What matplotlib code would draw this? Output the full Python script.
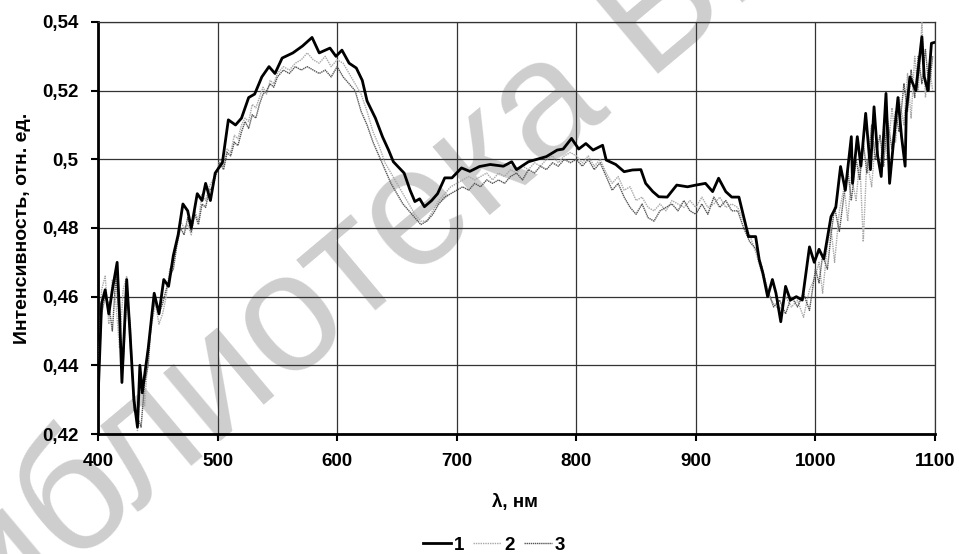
import matplotlib
matplotlib.use("Agg")
import matplotlib.pyplot as plt
from matplotlib.ticker import FuncFormatter

plt.rcParams['font.family'] = ['Liberation Sans', 'DejaVu Sans']
plt.rcParams['font.weight'] = 'bold'

# серия 1 (чёрная)
wl1 = [400, 403, 406, 409, 412, 416, 418, 420, 424, 427, 430, 433, 435, 437, 442, 447, 451, 455,
       459, 463, 467, 471, 475, 478, 483, 487, 490, 494, 498, 504, 509, 515, 520, 526, 531, 537,
       543, 548, 554, 563, 571, 579, 585, 594, 599, 604, 610, 616, 621, 625, 632, 638, 643, 647,
       656, 661, 665, 669, 673, 679, 684, 690, 696, 704, 711, 719, 728, 739, 746, 750, 760, 767,
       775, 784, 789, 796, 802, 808, 814, 822, 825, 833, 840, 847, 854, 858, 864, 869, 876, 884,
       893, 900, 908, 914, 919, 925, 930, 936, 940, 944, 950, 953, 956, 960, 964, 967, 971, 975,
       979, 984, 989, 995, 999, 1003, 1007, 1013, 1017, 1021, 1025, 1030, 1031, 1035, 1038, 1042,
       1046, 1049, 1052, 1055, 1059, 1062, 1065, 1069, 1072, 1075, 1076, 1079, 1084, 1089, 1091,
       1094, 1097, 1099]
s1 = [0.430, 0.458, 0.462, 0.455, 0.462, 0.470, 0.455, 0.435, 0.465, 0.448, 0.430, 0.422, 0.440,
      0.432, 0.445, 0.461, 0.455, 0.465, 0.463, 0.472, 0.478, 0.487, 0.485, 0.480, 0.490, 0.488,
      0.493, 0.488, 0.496, 0.499, 0.5115, 0.510, 0.512, 0.518, 0.519, 0.524, 0.527, 0.525, 0.5295,
      0.531, 0.533, 0.5355, 0.531, 0.5324, 0.530, 0.5318, 0.528, 0.5266, 0.523, 0.517, 0.512,
      0.5065, 0.5027, 0.4993, 0.496, 0.491, 0.4877, 0.4885, 0.4862, 0.488, 0.490, 0.4946, 0.4946,
      0.4975, 0.4965, 0.4979, 0.4985, 0.498, 0.4993, 0.497, 0.4993, 0.500, 0.5008, 0.5027, 0.503,
      0.5061, 0.503, 0.5046, 0.5027, 0.5041, 0.4998, 0.4985, 0.4964, 0.4969, 0.497, 0.493, 0.4906,
      0.4891, 0.489, 0.4925, 0.492, 0.4925, 0.493, 0.4906, 0.4945, 0.4906, 0.489, 0.489, 0.4833,
      0.4775, 0.4775, 0.4707, 0.4669, 0.460, 0.465, 0.461, 0.4527, 0.463, 0.459, 0.460, 0.459,
      0.4745, 0.470, 0.4738, 0.471, 0.4833, 0.486, 0.4979, 0.491, 0.5066, 0.493, 0.5066, 0.498,
      0.5134, 0.497, 0.5153, 0.501, 0.495, 0.5192, 0.493, 0.504, 0.518, 0.5066, 0.498, 0.514,
      0.524, 0.520, 0.5357, 0.524, 0.520, 0.5338, 0.534]

# серии 2 и 3
wl23 = [400, 403, 406, 409, 412, 415, 418, 421, 424, 427, 430, 433, 436, 439, 442, 445, 448, 451,
        454, 457, 460, 463, 466, 469, 472, 475, 478, 481, 484, 487, 490, 493, 496, 499, 502, 505,
        508, 511, 514, 517, 520, 523, 526, 529, 532, 535, 538, 541, 544, 547, 550, 555, 560, 565,
        570, 575, 580, 585, 590, 595, 600, 605, 610, 615, 620, 625, 630, 635, 640, 645, 650, 655,
        660, 665, 670, 675, 680, 685, 690, 695, 700, 705, 710, 715, 720, 725, 730, 735, 740, 745,
        750, 755, 760, 765, 770, 775, 780, 785, 790, 795, 800, 805, 810, 815, 820, 825, 830, 835,
        840, 845, 850, 855, 860, 865, 870, 875, 880, 885, 890, 895, 900, 905, 910, 915, 920, 925,
        930, 935, 940, 945, 950, 955, 960, 965, 970, 975, 980, 985, 990, 995, 1000, 1003, 1006,
        1010, 1013, 1016, 1020, 1024, 1027, 1030, 1034, 1037, 1040, 1043, 1047, 1050, 1054, 1057,
        1060, 1064, 1067, 1070, 1074, 1077, 1080, 1083, 1086, 1089, 1092, 1095, 1098]
s2 = [0.435, 0.462, 0.466, 0.452, 0.465, 0.458, 0.445, 0.462, 0.466, 0.445, 0.432, 0.421, 0.438,
      0.428, 0.444, 0.452, 0.458, 0.452, 0.455, 0.460, 0.468, 0.470, 0.476, 0.482, 0.480, 0.481,
      0.478, 0.485, 0.482, 0.490, 0.488, 0.492, 0.494, 0.496, 0.500, 0.498, 0.503, 0.502, 0.507,
      0.506, 0.510, 0.512, 0.511, 0.516, 0.515, 0.518, 0.521, 0.519, 0.523, 0.522, 0.525, 0.527,
      0.526, 0.528, 0.529, 0.531, 0.529, 0.528, 0.530, 0.527, 0.529, 0.528, 0.525, 0.522, 0.519,
      0.514, 0.508, 0.504, 0.499, 0.496, 0.493, 0.490, 0.487, 0.484, 0.482, 0.482, 0.485, 0.488,
      0.490, 0.492, 0.493, 0.494, 0.495, 0.494, 0.495, 0.496, 0.494, 0.496, 0.495, 0.497, 0.496,
      0.498, 0.497, 0.499, 0.498, 0.500, 0.501, 0.499, 0.501, 0.502, 0.501, 0.499, 0.501, 0.498,
      0.500, 0.496, 0.493, 0.495, 0.491, 0.492, 0.488, 0.489, 0.486, 0.485, 0.487, 0.485, 0.488,
      0.487, 0.486, 0.488, 0.486, 0.489, 0.486, 0.487, 0.489, 0.486, 0.487, 0.486, 0.482, 0.478,
      0.473, 0.467, 0.461, 0.458, 0.456, 0.460, 0.457, 0.459, 0.454, 0.462, 0.466, 0.470, 0.461,
      0.475, 0.480, 0.470, 0.485, 0.492, 0.482, 0.495, 0.488, 0.500, 0.476, 0.500, 0.492, 0.505,
      0.497, 0.510, 0.500, 0.515, 0.505, 0.518, 0.510, 0.525, 0.512, 0.530, 0.520, 0.540, 0.518,
      0.528, 0.520]
s3 = [0.432, 0.455, 0.460, 0.458, 0.450, 0.466, 0.452, 0.440, 0.460, 0.452, 0.427, 0.425, 0.422,
      0.435, 0.440, 0.455, 0.459, 0.455, 0.458, 0.462, 0.466, 0.468, 0.475, 0.480, 0.478, 0.483,
      0.479, 0.484, 0.481, 0.487, 0.486, 0.491, 0.492, 0.496, 0.499, 0.497, 0.502, 0.501, 0.505,
      0.504, 0.508, 0.511, 0.509, 0.513, 0.512, 0.516, 0.519, 0.520, 0.522, 0.521, 0.524, 0.526,
      0.525, 0.527, 0.526, 0.527, 0.526, 0.525, 0.526, 0.524, 0.527, 0.524, 0.522, 0.520, 0.514,
      0.510, 0.505, 0.501, 0.497, 0.493, 0.490, 0.487, 0.485, 0.483, 0.481, 0.482, 0.484, 0.487,
      0.489, 0.490, 0.491, 0.492, 0.491, 0.493, 0.492, 0.494, 0.493, 0.494, 0.493, 0.495, 0.496,
      0.494, 0.497, 0.496, 0.498, 0.497, 0.499, 0.498, 0.500, 0.499, 0.500, 0.498, 0.500, 0.497,
      0.499, 0.495, 0.491, 0.493, 0.489, 0.486, 0.484, 0.487, 0.483, 0.482, 0.485, 0.486, 0.487,
      0.485, 0.488, 0.485, 0.484, 0.487, 0.484, 0.489, 0.486, 0.488, 0.485, 0.485, 0.480, 0.476,
      0.474, 0.469, 0.462, 0.457, 0.459, 0.455, 0.460, 0.457, 0.461, 0.456, 0.468, 0.464, 0.472,
      0.468, 0.478, 0.486, 0.479, 0.490, 0.497, 0.488, 0.500, 0.494, 0.505, 0.496, 0.510, 0.500,
      0.507, 0.498, 0.512, 0.503, 0.514, 0.508, 0.522, 0.514, 0.526, 0.518, 0.530, 0.522, 0.532,
      0.520, 0.530]

xticks = [400, 500, 600, 700, 800, 900, 1000, 1100]
yticks = [0.42, 0.44, 0.46, 0.48, 0.50, 0.52, 0.54]

fig = plt.figure(figsize=(9.59, 5.54), dpi=100)
ax = fig.add_axes([0.1022, 0.2166, 0.8728, 0.7437])
ax.patch.set_alpha(0)

# водяной знак (позади осей)
fig.text(0.386, 0.534, "Библиотека БГУ", fontsize=121, fontweight='normal',
         color='#cecece', rotation=40, ha='center', va='center', zorder=-1)

ax.plot(wl23, s2, color='#a8a8a8', lw=1.0, ls=(0, (1, 0.7)), label='2', zorder=3)
ax.plot(wl23, s3, color='#555555', lw=1.0, ls=(0, (1, 0.5)), label='3', zorder=3)
ax.plot(wl1, s1, color='black', lw=2.0, label='1', zorder=4)

ax.set_xlim(400, 1100)
ax.set_ylim(0.42, 0.54)
ax.set_xticks(xticks)
ax.set_yticks(yticks)
ax.yaxis.set_major_formatter(FuncFormatter(lambda v, p: ('%g' % round(v, 2)).replace('.', ',')))
ax.grid(True, color='#333333', lw=0.9)
ax.set_axisbelow(True)
for sp in ['top', 'right']:
    ax.spines[sp].set_linewidth(0.9)
    ax.spines[sp].set_color('#333333')
for sp in ['left', 'bottom']:
    ax.spines[sp].set_linewidth(2.0)
ax.tick_params(direction='out', length=5, width=1.5, labelsize=13.5)
ax.tick_params(axis='x', pad=9)
ax.tick_params(axis='y', pad=9)

ax.set_xlabel("λ, нм", fontsize=13.5, fontweight='bold')
ax.set_ylabel("Интенсивность, отн. ед.", fontsize=14, fontweight='bold')
ax.xaxis.set_label_coords(0.498, -0.145)
ax.yaxis.set_label_coords(-0.080, 0.5)

h, l = ax.get_legend_handles_labels()
order = [2, 0, 1]
fig.legend([h[i] for i in order], [l[i] for i in order], loc='center', bbox_to_anchor=(0.515, 0.016),
           ncol=3, frameon=False, fontsize=13.5, handlelength=1.5, handletextpad=0.15,
           columnspacing=0.5)

fig.savefig("out.png", dpi=100)
